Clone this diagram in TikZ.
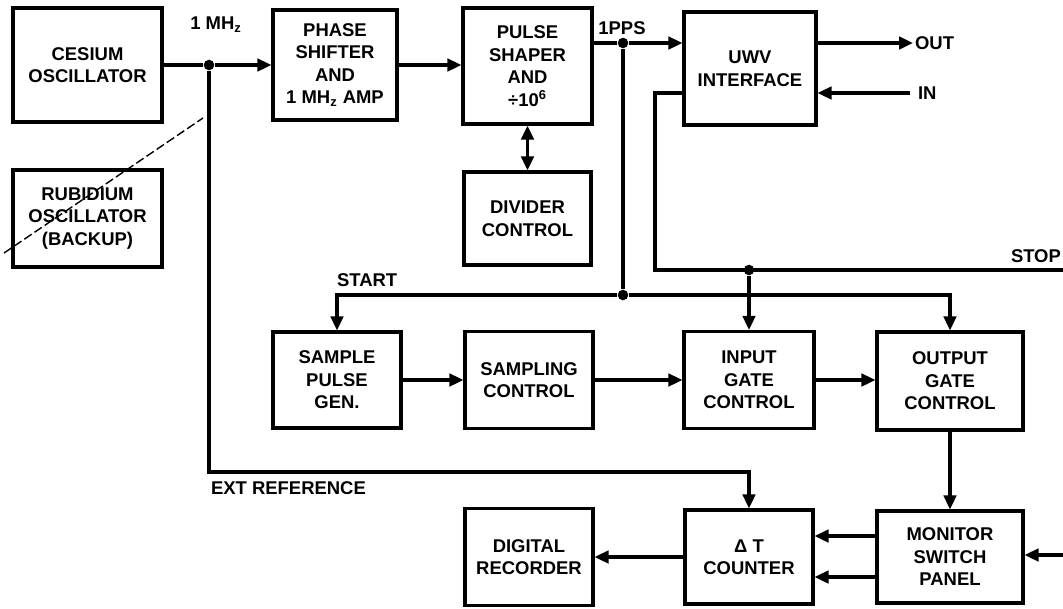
\documentclass[tikz,border=0pt]{standalone}
\usepackage{fontspec}
\setmainfont{Liberation Sans}
\usetikzlibrary{arrows.meta}

\begin{document}
\begin{tikzpicture}[x=0.02cm, y=-0.02cm, font=\bfseries\fontsize{10.5}{12.8}\selectfont]
\tikzstyle{bx}=[draw, line width=1.8pt, align=center, inner sep=0pt]
\tikzstyle{ln}=[line width=1.8pt]
\tikzstyle{wire}=[ln, -{Triangle[length=2.8mm, width=2.5mm]}]
\tikzstyle{dot}=[fill, circle, inner sep=0pt, minimum size=6pt]
\tikzstyle{lbl}=[inner sep=1pt]
\useasboundingbox (0,0) rectangle (1063,609);
% top row
\node[bx, minimum width=2.98cm, minimum height=2.28cm] (ces) at (87.5,65) {CESIUM\\OSCILLATOR};
\node[bx, minimum width=2.98cm, minimum height=1.94cm] (rub) at (87.5,218.5) {RUBIDIUM\\OSCILLATOR\\(BACKUP)};
\node[bx, minimum width=2.48cm, minimum height=2.2cm] (phase) at (335,65) {PHASE\\SHIFTER\\AND\\1 MH\textsubscript{z} AMP};
\node[bx, minimum width=2.58cm, minimum height=2.32cm] (pulse) at (527.5,66) {PULSE\\SHAPER\\AND\\÷10\textsuperscript{6}};
\node[bx, minimum width=2.54cm, minimum height=1.86cm] (div) at (527.5,218.5) {DIVIDER\\CONTROL};
\node[bx, minimum width=2.64cm, minimum height=2.26cm] (uwv) at (750,68.5) {UWV\\INTERFACE};
% middle row
\node[bx, minimum width=2.56cm, minimum height=1.92cm] (samp) at (337,380) {SAMPLE\\PULSE\\GEN.};
\node[bx, minimum width=2.56cm, minimum height=1.94cm] (sctl) at (529,380) {SAMPLING\\CONTROL};
\node[bx, minimum width=2.6cm, minimum height=1.94cm] (igc) at (749,380) {INPUT\\GATE\\CONTROL};
\node[bx, minimum width=2.92cm, minimum height=1.96cm] (ogc) at (950,381) {OUTPUT\\GATE\\CONTROL};
% bottom row
\node[bx, minimum width=2.56cm, minimum height=1.94cm] (dig) at (529,557) {DIGITAL\\RECORDER};
\node[bx, minimum width=2.56cm, minimum height=1.88cm] (dtc) at (749,557) {Δ T\\COUNTER};
\node[bx, minimum width=2.92cm, minimum height=1.84cm] (msp) at (950,557) {MONITOR\\SWITCH\\PANEL};
% junctions and free ends
\node[dot] (mhzdot) at (209,65) {};
\node[dot] (ppsdot) at (623,43) {};
\node[dot] (startdot) at (623,295) {};
\node[dot] (stopdot) at (749,270) {};
\coordinate (out) at (913,43);
\coordinate (in) at (910,93);
\coordinate (stopbend) at (655,93);
\coordinate (stop) at (1063,270);
\coordinate (extbend) at (209,472);
\coordinate (mspin) at (1063,555);
\coordinate (sw1) at (4,253);
\coordinate (sw2) at (203,118);
% labels
\node[lbl] (mhzlbl) at (216,25) {1 MH\textsubscript{z}};
\node[lbl] (ppslbl) at (622,28) {1PPS};
\node[lbl, anchor=west] (outlbl) at (out) {OUT};
\node[lbl, anchor=west] (inlbl) at ([xshift=0.12cm]in) {IN};
\node[lbl, anchor=south east] (stoplbl) at ([yshift=0.1cm]stop) {STOP};
\node[lbl, anchor=south west] (startlbl) at (335,289) {START};
\node[lbl, anchor=north west] (extlbl) at (209,480) {EXT REFERENCE};
% connectors
\draw[ln] (ces) -- (mhzdot);
\draw[wire] (mhzdot) -- (phase);
\draw[wire] (phase) -- (pulse.west |- phase);
\draw[wire, {Triangle[length=2.8mm, width=2.5mm]}-{Triangle[length=2.8mm, width=2.5mm]}] (pulse) -- (div);
\draw[ln] (pulse.east |- ppsdot) -- (ppsdot);
\draw[wire] (ppsdot) -- (ppsdot -| uwv.west);
\draw[wire] (uwv.east |- out) -- (out);
\draw[wire] (in) -- (in -| uwv.east);
\draw[ln] (uwv.west |- stopbend) -- (stopbend) |- (stop);
\draw[ln] (ppsdot) -- (startdot);
\draw[wire] (startdot) -| (samp);
\draw[wire] (startdot) -| (ogc);
\draw[wire] (stopdot) -- (igc);
\draw[wire] (samp) -- (sctl);
\draw[wire] (sctl) -- (igc);
\draw[wire] (igc) -- (ogc.west |- igc);
\draw[wire] (ogc) -- (msp);
\draw[wire] ([yshift=0.42cm]msp.west) -- ([yshift=0.42cm]dtc.east);
\draw[wire] ([yshift=-0.4cm]msp.west) -- ([yshift=-0.4cm]dtc.east);
\draw[wire] (mspin) -- (mspin -| msp.east);
\draw[wire] (dtc) -- (dig);
\draw[wire] (mhzdot) -- (extbend) -| (dtc);
% backup switch mark
\draw[line width=0.8pt, dash pattern=on 5pt off 2pt] (sw1) -- (sw2);
\end{tikzpicture}
\end{document}
